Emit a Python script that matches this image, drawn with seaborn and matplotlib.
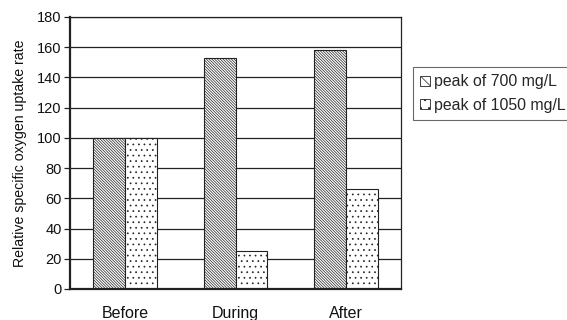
import matplotlib
matplotlib.use("Agg")
import matplotlib.pyplot as plt
import seaborn as sns
import pandas as pd
import numpy as np
from matplotlib.patches import Patch

categories = ["Before", "During", "After"]
series_names = ["peak of 700 mg/L", "peak of 1050 mg/L"]
values_700 = [100, 153, 158]
values_1050 = [100, 25, 66]
y_ticks = [0, 20, 40, 60, 80, 100, 120, 140, 160, 180]

df = pd.DataFrame({
    "cat": categories * 2,
    "series": [series_names[0]] * 3 + [series_names[1]] * 3,
    "value": values_700 + values_1050,
})

sns.set_style("white")
plt.rcParams["font.family"] = ["Liberation Sans", "DejaVu Sans"]
plt.rcParams["hatch.linewidth"] = 0.5
plt.rcParams["hatch.color"] = "#222222"

fig = plt.figure(figsize=(5.67, 3.2), dpi=100)
ax = fig.add_axes([70 / 567, 31 / 320, 331 / 567, 272 / 320])

sns.barplot(data=df, x="cat", y="value", hue="series", order=categories,
            hue_order=series_names, palette=["white", "white"], width=0.58,
            edgecolor="black", linewidth=0.8, ax=ax, legend=False, saturation=1)

hatches = ["\\" * 12, "..."]
for i, cont in enumerate(ax.containers):
    for b in cont:
        b.set_hatch(hatches[i])
        b.set_edgecolor("#222222")

ax.set_ylim(0, 180)
ax.set_xlim(-0.5, 2.5)
ax.set_yticks(y_ticks)
ax.set_yticklabels([str(t) for t in y_ticks], fontsize=10.5, color="#111111")
ax.yaxis.grid(True, color="#222222", linewidth=0.9)
ax.set_axisbelow(True)
ax.set_xlabel("")
ax.set_ylabel("Relative specific oxygen uptake rate", fontsize=10.2, labelpad=7,
              color="#111111")

ax.set_xticks([0, 1, 2])
ax.set_xticklabels(categories, fontsize=11.5, color="#111111")
ax.tick_params(axis="x", which="major", length=0, pad=12)
ax.set_xticks([-0.5, 0.5, 1.5, 2.5], minor=True)
ax.tick_params(axis="x", which="minor", length=4, width=0.9, color="#222222")
ax.tick_params(axis="y", which="major", length=4, width=0.9, color="#222222", left=True, pad=2)

for s in ["top", "right"]:
    ax.spines[s].set_linewidth(0.9)
    ax.spines[s].set_color("#222222")
for s in ["left", "bottom"]:
    ax.spines[s].set_linewidth(1.6)
    ax.spines[s].set_color("#222222")

handles = [Patch(facecolor="white", edgecolor="#222222", hatch=["\\\\\\", ".."][i], linewidth=0.6)
           for i in range(2)]
leg = fig.legend(handles, series_names, loc="upper left",
                 bbox_to_anchor=(413 / 567, 1 - 67 / 320), fontsize=11.4,
                 frameon=True, fancybox=False, handlelength=0.6, handleheight=0.6,
                 handletextpad=0.3, borderpad=0.45, labelspacing=0.55, borderaxespad=0)
leg.get_frame().set_edgecolor("#444444")
leg.get_frame().set_linewidth(0.8)

fig.savefig("out.png", dpi=100)
